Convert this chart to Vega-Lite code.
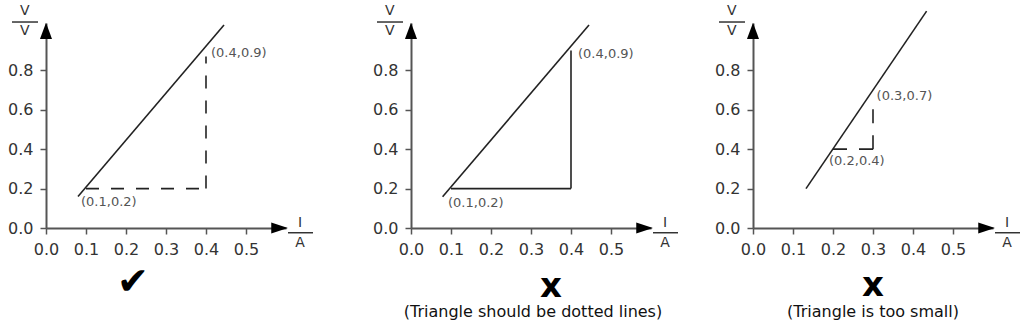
{
  "$schema": "https://vega.github.io/schema/vega-lite/v6.json",
  "background": "white",
  "padding": {"left": 7, "top": 3, "right": 5, "bottom": 5},
  "bounds": "flush",
  "spacing": 125,
  "config": {
    "view": {"stroke": null},
    "font": "DejaVu Sans",
    "axis": {
      "grid": false,
      "title": null,
      "domainColor": "#555",
      "domainWidth": 2,
      "tickColor": "#555",
      "tickWidth": 1.5,
      "tickSize": 6,
      "labelFont": "DejaVu Sans",
      "labelFontSize": 16,
      "labelColor": "#333",
      "labelPadding": 7,
      "labelFlush": false,
      "labelOverlap": false,
      "format": ".1f"
    }
  },
  "datasets": {
    "lines": [
      {"panel": 1, "I": 0.08, "V": 0.16}, {"panel": 1, "I": 0.445, "V": 1.03},
      {"panel": 2, "I": 0.079, "V": 0.158}, {"panel": 2, "I": 0.445, "V": 1.03},
      {"panel": 3, "I": 0.1325, "V": 0.2}, {"panel": 3, "I": 0.434, "V": 1.1}
    ],
    "tri": [
      {"panel": 1, "I": 0.1, "V": 0.2, "I2": 0.4, "V2": 0.2},
      {"panel": 1, "I": 0.4, "V": 0.2, "I2": 0.4, "V2": 0.87},
      {"panel": 2, "I": 0.1, "V": 0.2, "I2": 0.4, "V2": 0.2},
      {"panel": 2, "I": 0.4, "V": 0.2, "I2": 0.4, "V2": 0.9},
      {"panel": 3, "I": 0.2, "V": 0.4, "I2": 0.3, "V2": 0.4},
      {"panel": 3, "I": 0.3, "V": 0.4, "I2": 0.3, "V2": 0.66}
    ],
    "pts": [
      {"panel": 1, "I": 0.0875, "V": 0.132, "label": "(0.1,0.2)"},
      {"panel": 1, "I": 0.4125, "V": 0.888, "label": "(0.4,0.9)"},
      {"panel": 2, "I": 0.0925, "V": 0.127, "label": "(0.1,0.2)"},
      {"panel": 2, "I": 0.4175, "V": 0.885, "label": "(0.4,0.9)"},
      {"panel": 3, "I": 0.309, "V": 0.671, "label": "(0.3,0.7)"},
      {"panel": 3, "I": 0.19, "V": 0.34, "label": "(0.2,0.4)"}
    ],
    "units": [
      {"I": -0.053, "V": 1.101, "t": "V"},
      {"I": -0.053, "V": 0.999, "t": "V"},
      {"I": 0.635, "V": 0.025, "t": "I"},
      {"I": 0.635, "V": -0.076, "t": "A"}
    ],
    "bars": [
      {"I": -0.085, "I2": -0.02, "V": 1.045},
      {"I": 0.605, "I2": 0.6675, "V": -0.024}
    ],
    "arrows": [
      {"dir": "x", "I": 0.584, "V": 0},
      {"dir": "y", "I": 0, "V": 1.0}
    ],
    "notes": [
      {"panel": 1, "kind": "mark", "I": 0.2175, "V": -0.279, "t": "✔"},
      {"panel": 2, "kind": "mark", "I": 0.35, "V": -0.3, "t": "x"},
      {"panel": 2, "kind": "caption", "I": 0.305, "V": -0.426, "t": "(Triangle should be dotted lines)"},
      {"panel": 3, "kind": "mark", "I": 0.3, "V": -0.295, "t": "x"},
      {"panel": 3, "kind": "caption", "I": 0.3, "V": -0.426, "t": "(Triangle is too small)"}
    ]
  },
  "hconcat": [
    {
      "width": 240, "height": 205,
      "layer": [
        {"data": {"name": "lines"}, "transform": [{"filter": "datum.panel == 1"}],
         "mark": {"type": "line", "color": "#222", "strokeWidth": 1.6, "clip": false},
         "encoding": {
           "x": {"field": "I", "type": "quantitative", "scale": {"domain": [0, 0.6], "nice": false, "zero": false}, "axis": {"values": [0, 0.1, 0.2, 0.3, 0.4, 0.5]}},
           "y": {"field": "V", "type": "quantitative", "scale": {"domain": [0, 1.04], "nice": false, "zero": false}, "axis": {"values": [0, 0.2, 0.4, 0.6, 0.8]}}
         }},
        {"data": {"name": "tri"}, "transform": [{"filter": "datum.panel == 1"}],
         "mark": {"type": "rule", "color": "#222", "strokeWidth": 1.6, "strokeDash": [13, 12], "clip": false},
         "encoding": {"x": {"field": "I", "type": "quantitative"}, "x2": {"field": "I2"}, "y": {"field": "V", "type": "quantitative"}, "y2": {"field": "V2"}}},
        {"data": {"name": "pts"}, "transform": [{"filter": "datum.panel == 1"}],
         "mark": {"type": "text", "align": "left", "baseline": "middle", "fontSize": 13, "color": "#555", "clip": false},
         "encoding": {"x": {"field": "I", "type": "quantitative"}, "y": {"field": "V", "type": "quantitative"}, "text": {"field": "label"}}},
        {"data": {"name": "units"},
         "mark": {"type": "text", "align": "center", "baseline": "middle", "fontSize": 14, "color": "#333", "clip": false},
         "encoding": {"x": {"field": "I", "type": "quantitative"}, "y": {"field": "V", "type": "quantitative"}, "text": {"field": "t"}}},
        {"data": {"name": "bars"},
         "mark": {"type": "rule", "color": "#333", "strokeWidth": 1.5, "clip": false},
         "encoding": {"x": {"field": "I", "type": "quantitative"}, "x2": {"field": "I2"}, "y": {"field": "V", "type": "quantitative"}}},
        {"data": {"name": "arrows"}, "transform": [{"filter": "datum.dir == 'x'"}],
         "mark": {"type": "point", "shape": "M1,0L-1,-0.66L-1,0.66Z", "size": 280, "filled": true, "color": "#000", "opacity": 1, "clip": false},
         "encoding": {"x": {"field": "I", "type": "quantitative"}, "y": {"field": "V", "type": "quantitative"}}},
        {"data": {"name": "arrows"}, "transform": [{"filter": "datum.dir == 'y'"}],
         "mark": {"type": "point", "shape": "M0,-0.96L-0.72,0.96L0.72,0.96Z", "size": 280, "filled": true, "color": "#000", "opacity": 1, "clip": false},
         "encoding": {"x": {"field": "I", "type": "quantitative"}, "y": {"field": "V", "type": "quantitative"}}},
        {"data": {"name": "notes"}, "transform": [{"filter": "datum.panel == 1 && datum.kind == 'mark'"}],
         "mark": {"type": "text", "align": "center", "baseline": "middle", "fontSize": 38, "color": "#000", "clip": false},
         "encoding": {"x": {"field": "I", "type": "quantitative"}, "y": {"field": "V", "type": "quantitative"}, "text": {"field": "t"}}}
      ]
    },
    {
      "bounds": "flush",
      "spacing": 102,
      "hconcat": [
        {
          "width": 240, "height": 205,
          "layer": [
            {"data": {"name": "lines"}, "transform": [{"filter": "datum.panel == 2"}],
             "mark": {"type": "line", "color": "#222", "strokeWidth": 1.6, "clip": false},
             "encoding": {
               "x": {"field": "I", "type": "quantitative", "scale": {"domain": [0, 0.6], "nice": false, "zero": false}, "axis": {"values": [0, 0.1, 0.2, 0.3, 0.4, 0.5]}},
               "y": {"field": "V", "type": "quantitative", "scale": {"domain": [0, 1.04], "nice": false, "zero": false}, "axis": {"values": [0, 0.2, 0.4, 0.6, 0.8]}}
             }},
            {"data": {"name": "tri"}, "transform": [{"filter": "datum.panel == 2"}],
             "mark": {"type": "rule", "color": "#222", "strokeWidth": 1.6, "clip": false},
             "encoding": {"x": {"field": "I", "type": "quantitative"}, "x2": {"field": "I2"}, "y": {"field": "V", "type": "quantitative"}, "y2": {"field": "V2"}}},
            {"data": {"name": "pts"}, "transform": [{"filter": "datum.panel == 2"}],
             "mark": {"type": "text", "align": "left", "baseline": "middle", "fontSize": 13, "color": "#555", "clip": false},
             "encoding": {"x": {"field": "I", "type": "quantitative"}, "y": {"field": "V", "type": "quantitative"}, "text": {"field": "label"}}},
            {"data": {"name": "units"},
             "mark": {"type": "text", "align": "center", "baseline": "middle", "fontSize": 14, "color": "#333", "clip": false},
             "encoding": {"x": {"field": "I", "type": "quantitative"}, "y": {"field": "V", "type": "quantitative"}, "text": {"field": "t"}}},
            {"data": {"name": "bars"},
             "mark": {"type": "rule", "color": "#333", "strokeWidth": 1.5, "clip": false},
             "encoding": {"x": {"field": "I", "type": "quantitative"}, "x2": {"field": "I2"}, "y": {"field": "V", "type": "quantitative"}}},
            {"data": {"name": "arrows"}, "transform": [{"filter": "datum.dir == 'x'"}],
             "mark": {"type": "point", "shape": "M1,0L-1,-0.66L-1,0.66Z", "size": 280, "filled": true, "color": "#000", "opacity": 1, "clip": false},
             "encoding": {"x": {"field": "I", "type": "quantitative"}, "y": {"field": "V", "type": "quantitative"}}},
            {"data": {"name": "arrows"}, "transform": [{"filter": "datum.dir == 'y'"}],
             "mark": {"type": "point", "shape": "M0,-0.96L-0.72,0.96L0.72,0.96Z", "size": 280, "filled": true, "color": "#000", "opacity": 1, "clip": false},
             "encoding": {"x": {"field": "I", "type": "quantitative"}, "y": {"field": "V", "type": "quantitative"}}},
            {"data": {"name": "notes"}, "transform": [{"filter": "datum.panel == 2 && datum.kind == 'mark'"}],
             "mark": {"type": "text", "align": "center", "baseline": "middle", "fontSize": 34, "fontWeight": "bold", "color": "#000", "clip": false},
             "encoding": {"x": {"field": "I", "type": "quantitative"}, "y": {"field": "V", "type": "quantitative"}, "text": {"field": "t"}}},
            {"data": {"name": "notes"}, "transform": [{"filter": "datum.panel == 2 && datum.kind == 'caption'"}],
             "mark": {"type": "text", "align": "center", "baseline": "middle", "fontSize": 16, "color": "#111", "clip": false},
             "encoding": {"x": {"field": "I", "type": "quantitative"}, "y": {"field": "V", "type": "quantitative"}, "text": {"field": "t"}}}
          ]
        },
        {
          "width": 240, "height": 205,
          "layer": [
            {"data": {"name": "lines"}, "transform": [{"filter": "datum.panel == 3"}],
             "mark": {"type": "line", "color": "#222", "strokeWidth": 1.6, "clip": false},
             "encoding": {
               "x": {"field": "I", "type": "quantitative", "scale": {"domain": [0, 0.6], "nice": false, "zero": false}, "axis": {"values": [0, 0.1, 0.2, 0.3, 0.4, 0.5]}},
               "y": {"field": "V", "type": "quantitative", "scale": {"domain": [0, 1.04], "nice": false, "zero": false}, "axis": {"values": [0, 0.2, 0.4, 0.6, 0.8]}}
             }},
            {"data": {"name": "tri"}, "transform": [{"filter": "datum.panel == 3"}],
             "mark": {"type": "rule", "color": "#222", "strokeWidth": 1.6, "strokeDash": [14, 12], "clip": false},
             "encoding": {"x": {"field": "I", "type": "quantitative"}, "x2": {"field": "I2"}, "y": {"field": "V", "type": "quantitative"}, "y2": {"field": "V2"}}},
            {"data": {"name": "pts"}, "transform": [{"filter": "datum.panel == 3"}],
             "mark": {"type": "text", "align": "left", "baseline": "middle", "fontSize": 13, "color": "#555", "clip": false},
             "encoding": {"x": {"field": "I", "type": "quantitative"}, "y": {"field": "V", "type": "quantitative"}, "text": {"field": "label"}}},
            {"data": {"name": "units"},
             "mark": {"type": "text", "align": "center", "baseline": "middle", "fontSize": 14, "color": "#333", "clip": false},
             "encoding": {"x": {"field": "I", "type": "quantitative"}, "y": {"field": "V", "type": "quantitative"}, "text": {"field": "t"}}},
            {"data": {"name": "bars"},
             "mark": {"type": "rule", "color": "#333", "strokeWidth": 1.5, "clip": false},
             "encoding": {"x": {"field": "I", "type": "quantitative"}, "x2": {"field": "I2"}, "y": {"field": "V", "type": "quantitative"}}},
            {"data": {"name": "arrows"}, "transform": [{"filter": "datum.dir == 'x'"}],
             "mark": {"type": "point", "shape": "M1,0L-1,-0.66L-1,0.66Z", "size": 280, "filled": true, "color": "#000", "opacity": 1, "clip": false},
             "encoding": {"x": {"field": "I", "type": "quantitative"}, "y": {"field": "V", "type": "quantitative"}}},
            {"data": {"name": "arrows"}, "transform": [{"filter": "datum.dir == 'y'"}],
             "mark": {"type": "point", "shape": "M0,-0.96L-0.72,0.96L0.72,0.96Z", "size": 280, "filled": true, "color": "#000", "opacity": 1, "clip": false},
             "encoding": {"x": {"field": "I", "type": "quantitative"}, "y": {"field": "V", "type": "quantitative"}}},
            {"data": {"name": "notes"}, "transform": [{"filter": "datum.panel == 3 && datum.kind == 'mark'"}],
             "mark": {"type": "text", "align": "center", "baseline": "middle", "fontSize": 34, "fontWeight": "bold", "color": "#000", "clip": false},
             "encoding": {"x": {"field": "I", "type": "quantitative"}, "y": {"field": "V", "type": "quantitative"}, "text": {"field": "t"}}},
            {"data": {"name": "notes"}, "transform": [{"filter": "datum.panel == 3 && datum.kind == 'caption'"}],
             "mark": {"type": "text", "align": "center", "baseline": "middle", "fontSize": 16, "color": "#111", "clip": false},
             "encoding": {"x": {"field": "I", "type": "quantitative"}, "y": {"field": "V", "type": "quantitative"}, "text": {"field": "t"}}}
          ]
        }
      ]
    }
  ]
}
